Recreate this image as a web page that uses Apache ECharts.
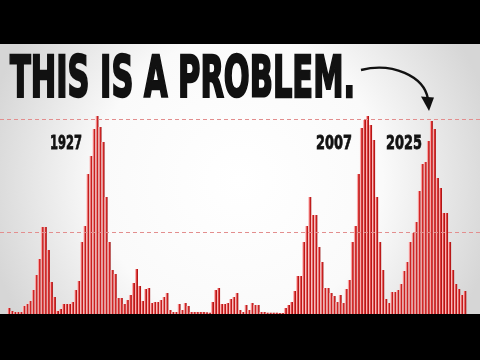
<!DOCTYPE html>
<html><head><meta charset="utf-8">
<script src="https://cdn.jsdelivr.net/npm/echarts@6/dist/echarts.min.js"></script>
<style>html,body{margin:0;padding:0;background:#000}#c{width:480px;height:360px}</style>
</head><body><div id="c"></div>
<script>
// ---- data (bar heights, arbitrary units) ----
const values = [
  6,3,2,2,2,8,10,13,24,39,
  55,87,87,64,32,17,3,5,10,10,
  10,12,24,33,72,88,140,158,185,198,
  187,172,117,72,44,40,16,16,10,14,
  19,31,45,28,13,25,26,11,12,12,
  14,17,21,4,2,2,10,4,11,8,
  2,2,2,2,2,1.7,1.3,12,24,26,
  10,10,11,15,17,21,4,2,9,4,
  11,9,9,2,2,1.3,1.3,1.3,1.3,1,
  1,6,9,12,23,38,38,72,88,117,
  99,99,67,52,26,26,21,18,12,19,
  11,25,34,72,88,140,186,194,198,189,
  174,117,72,44,15,11,22,22,24,30,
  43,52,72,81,92,123,150,152,173,193,
  185,136,126,101,101,72,44,30,25,19,23
];
const categories = values.map((v, i) => String(i + 1));
const guideValues = [195, 82];
const titleText = 'THIS IS A PROBLEM.';
const peakLabels = ['1927', '2007', '2025'];

// ---- helpers for condensed display text ----
const mctx = document.createElement('canvas').getContext('2d');
function fitText(text, size, left, top, width, strokeW) {
  const font = 'bold ' + size + 'px "DejaVu Sans"';
  mctx.font = font;
  const w = mctx.measureText(text).width;
  return {
    type: 'text', x: left, y: top, scaleX: width / w, z: 20,
    style: {
      text: text, fontSize: size, fontWeight: 'bold', fontFamily: 'DejaVu Sans',
      fill: '#111', stroke: '#111', lineWidth: strokeW,
      align: 'left', verticalAlign: 'top'
    }
  };
}

const chart = echarts.init(document.getElementById('c'), null, {renderer: 'canvas'});
chart.setOption({
  animation: false,
  backgroundColor: {
    type: 'radial', x: 0.5, y: 0.5, r: 0.72,
    colorStops: [
      {offset: 0, color: '#ffffff'},
      {offset: 0.55, color: '#fafafa'},
      {offset: 1, color: '#d6d6d6'}
    ]
  },
  grid: [
    {left: 7.3, right: 13.7, top: 114, bottom: 46},
    {left: 0, right: 0, top: 114, bottom: 46}
  ],
  xAxis: [
    {type: 'category', data: categories, show: false, gridIndex: 0},
    {type: 'value', min: 0, max: 1, show: false, gridIndex: 1}
  ],
  yAxis: [
    {type: 'value', min: 0, max: 200, show: false, gridIndex: 0},
    {type: 'value', min: 0, max: 200, show: false, gridIndex: 1}
  ],
  series: [
    {
      type: 'bar', data: values, xAxisIndex: 0, yAxisIndex: 0,
      barCategoryGap: '0%',
      itemStyle: {
        color: {
          type: 'linear', x: 0, y: 0, x2: 1, y2: 0,
          colorStops: [
            {offset: 0, color: '#fbd0d0'},
            {offset: 0.3, color: '#f49a9a'},
            {offset: 0.55, color: '#dc2a2a'},
            {offset: 0.8, color: '#b81818'},
            {offset: 1, color: '#941111'}
          ]
        }
      }
    },
    {
      type: 'line', xAxisIndex: 1, yAxisIndex: 1, data: [[0, 0]],
      showSymbol: false, symbolSize: 0, lineStyle: {width: 0}, z: 5, silent: true,
      markLine: {
        symbol: 'none', silent: true, label: {show: false},
        lineStyle: {type: [4, 3], color: '#e38e8e', width: 1},
        data: guideValues.map(v => ({yAxis: v}))
      }
    }
  ],
  graphic: [
    {type: 'rect', shape: {x: 0, y: 0, width: 480, height: 44}, style: {fill: '#000'}, z: 30},
    {type: 'rect', shape: {x: 0, y: 314, width: 480, height: 46}, style: {fill: '#000'}, z: 30},
    fitText(titleText, 57, 10, 54, 345, 2.5),
    fitText(peakLabels[0], 20, 50, 133.4, 32, 0.8),
    fitText(peakLabels[1], 20, 316, 133.4, 36, 0.8),
    fitText(peakLabels[2], 20, 386, 133.4, 36, 0.8),
    {
      type: 'bezierCurve', z: 20,
      shape: {x1: 361, y1: 70, cpx1: 392, cpy1: 62, cpx2: 424, cpy2: 76, x2: 428, y2: 99},
      style: {stroke: '#111', lineWidth: 2.4, fill: null}
    },
    {
      type: 'polygon', z: 20,
      shape: {points: [[421, 96.5], [434, 97.5], [429, 111]]},
      style: {fill: '#111'}
    }
  ]
});
</script>
</body></html>
